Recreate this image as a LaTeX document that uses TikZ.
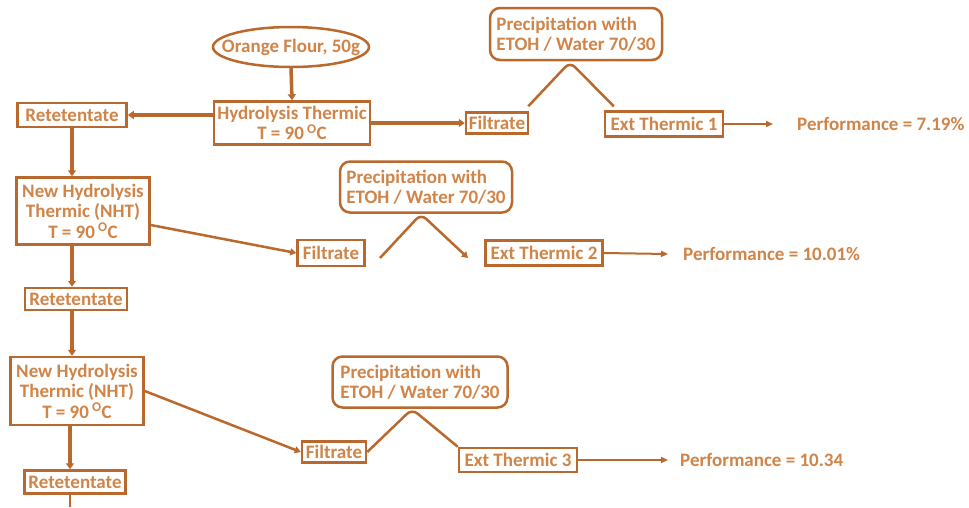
\documentclass[tikz,border=0pt]{standalone}
\usepackage{fontspec}
\setmainfont{Carlito}
\usetikzlibrary{arrows.meta}
\definecolor{bcol}{RGB}{185,105,45}
\definecolor{tcol}{RGB}{208,132,72}
\begin{document}
\begin{tikzpicture}[x=1pt,y=-1pt,
  txt/.style={text=tcol, font=\bfseries\fontsize{19}{20.5}\selectfont},
  bx/.style={txt, draw=bcol, line width=2.5pt, rectangle, inner sep=0pt, align=center},
  pbox/.style={txt, draw=bcol, line width=2.5pt, rounded corners=10pt, inner sep=0pt, align=left},
  big/.style={draw=bcol, line width=3.5pt, -{Triangle[length=6pt,width=8pt]}},
  mid/.style={draw=bcol, line width=2.5pt, -{Triangle[length=6pt,width=7pt]}},
  thin/.style={draw=bcol, line width=2pt, -{Triangle[length=7pt,width=6pt]}},
  link/.style={draw=bcol, line width=2.5pt, rounded corners=7pt}]
\useasboundingbox (0,0) rectangle (969,507);
\fill[white] (0,0) rectangle (969,507);

% row 1
\node[txt, minimum width=157, minimum height=40, inner sep=0pt] (flour) at (291,47) {Orange Flour, 50g};
\draw[bcol, line width=2.5pt] (flour.center) ellipse [x radius=78, y radius=20];
\node[bx, minimum width=156, minimum height=43] (hyd) at (292,123) {Hydrolysis Thermic\\T = 90\,\textsuperscript{O}C};
\node[bx, minimum width=109, minimum height=24] (ret1) at (72,115) {Retetentate};
\node[bx, minimum width=62, minimum height=21] (fil1) at (497,123) {Filtrate};
\node[pbox, minimum width=172, minimum height=52] (prec1) at (576,34) {Precipitation with\\ETOH / Water 70/30};
\node[bx, minimum width=118, minimum height=25] (ext1) at (664,124) {Ext Thermic 1};
\node[txt, anchor=west, inner sep=0pt] (perf1) at (797,124) {Performance = 7.19\%};

% row 2
\node[bx, minimum width=133, minimum height=67] (nht1) at (83,211) {New Hydrolysis\\Thermic (NHT)\\T = 90\,\textsuperscript{O}C};
\node[bx, minimum width=67, minimum height=26] (fil2) at (331,253) {Filtrate};
\node[pbox, minimum width=172, minimum height=51] (prec2) at (426,187) {Precipitation with\\ETOH / Water 70/30};
\node[bx, minimum width=117, minimum height=25] (ext2) at (544,253) {Ext Thermic 2};
\node[txt, anchor=west, inner sep=0pt] (perf2) at (683,254) {Performance = 10.01\%};
\node[bx, minimum width=102, minimum height=22] (ret2) at (76,299) {Retetentate};

% row 3
\node[bx, minimum width=133, minimum height=68] (nht2) at (77,391) {New Hydrolysis\\Thermic (NHT)\\T = 90\,\textsuperscript{O}C};
\node[bx, minimum width=64, minimum height=21] (fil3) at (334,452) {Filtrate};
\node[pbox, minimum width=175, minimum height=51] (prec3) at (420,382) {Precipitation with\\ETOH / Water 70/30};
\node[bx, minimum width=118, minimum height=24] (ext3) at (518,460) {Ext Thermic 3};
\node[txt, anchor=west, inner sep=0pt] (perf3) at (680,460) {Performance = 10.34};
\node[bx, minimum width=101, minimum height=23] (ret3) at (75,482) {Retetentate};

% coordinates
\coordinate (pk1) at (570,62);
\coordinate (pk2) at (421,214);
\coordinate (pk3) at (412,409);
\coordinate (a2s) at (380,258);
\coordinate (a2e) at (468,258);
\coordinate (tail) at (70,507);

% connectors
\draw[big] (flour.south) -- (hyd.north);
\draw[big] (hyd.west |- ret1.east) -- (ret1.east);
\draw[big] (hyd.east |- fil1.west) -- (fil1.west);
\draw[link] ([xshift=-1pt,yshift=5pt]fil1.north east) -- (pk1) -- ([xshift=10pt,yshift=4pt]ext1.north west);
\draw[thin] (ext1.east) -- ([xshift=-24pt]perf1.west);

\draw[big] (ret1.south) -- (ret1.south |- nht1.north);
\draw[mid] ([yshift=-14pt]nht1.east) -- (fil2.west);
\draw[link, -{Triangle[length=6pt,width=7pt]}] (a2s) -- (pk2) -- (a2e);
\draw[thin] (ext2.east) -- ([xshift=-15pt]perf2.west);
\draw[big] (nht1.south -| ret1.south) -- (ret1.south |- ret2.north);

\draw[big] (ret1.south |- ret2.south) -- (ret1.south |- nht2.north);
\draw[mid] (nht2.east) -- (fil3.west);
\draw[link] (fil3.east) -- (pk3) -- (ext3.north west);
\draw[thin] (ext3.east) -- ([xshift=-12pt]perf3.west);
\draw[big] (nht2.south -| tail) -- (ret3.north -| tail);
\draw[bcol, line width=1.5pt] (ret3.south -| tail) -- (tail);
\end{tikzpicture}
\end{document}
